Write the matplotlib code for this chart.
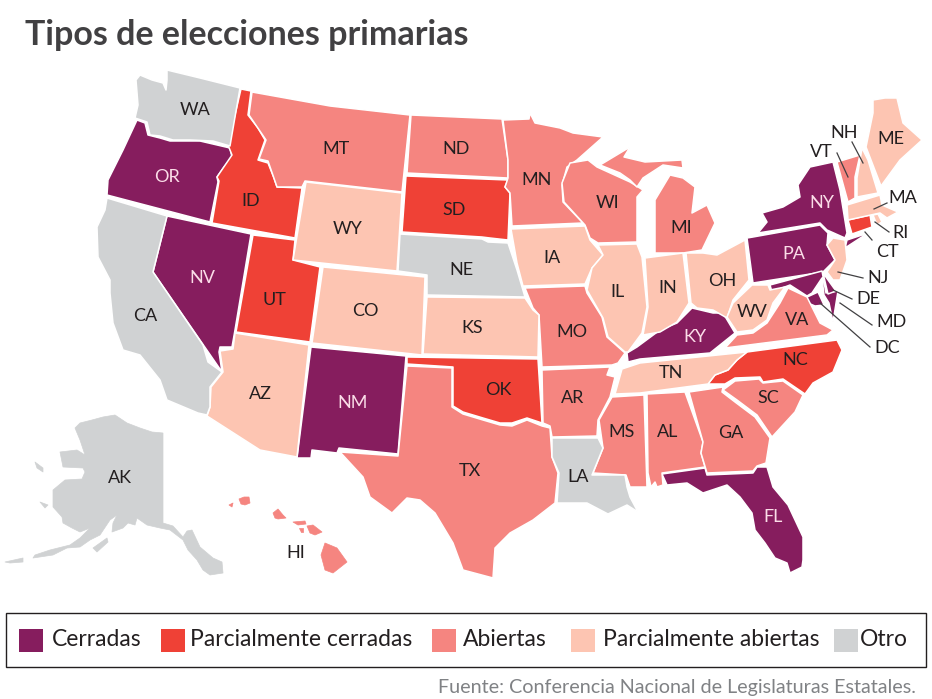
import matplotlib
matplotlib.use('Agg')
import matplotlib.pyplot as plt
from matplotlib.patches import Polygon, Rectangle

WA = [(167,70),(200,78),(240,88),(230,146),(213,141),(190,140),(173,140),(160,136),(150,135),(147,122),(135,118),(138,105),(136,80),(140,75),(152,80),(163,83),(166,90),(167,80)]
OR = [(137,120),(145,123),(148,135),(160,138),(170,141),(200,141),(230,148),(232,157),(224,167),(217,177),(218,182),(210,222),(107,195),(108,180),(123,150)]
CA = [(107,198),(167,216),(153,272),(203,345),(208,362),(222,372),(210,387),(210,407),(207,415),(198,413),(167,400),(160,380),(140,355),(123,350),(113,323),(110,293),(110,280),(98,257),(97,227),(105,210)]
NV = [(167,216),(251,234),(235,330),(232,347),(220,347),(219,352),(222,372),(153,272)]
ID = [(241,89),(251,91),(248,115),(258,128),(265,140),(258,160),(268,163),(274,178),(277,187),(302,188),(295,238),(212,223),(219,181),(217,177),(232,155),(228,145)]
MT = [(252,92),(330,106),(410,115),(402,192),(305,181),(302,187),(277,187),(268,161),(259,159),(266,140),(249,115)]
WY = [(306,182),(402,193),(397,271),(293,260)]
UT = [(253,235),(295,240),(293,260),(320,267),(310,342),(236,332)]
CO = [(323,267),(425,277),(422,355),(312,343)]
AZ = [(235,333),(309,345),(297,457),(260,450),(207,416),(210,407),(211,387),(223,372),(220,351),(233,349)]
NM = [(311,347),(406,356),(398,454),(339,448),(337,453),(312,450),(311,458),(297,458)]
ND = [(411,115),(502,119),(508,160),(508,178),(407,173)]
SD = [(406,176),(508,180),(505,187),(510,193),(508,240),(490,238),(482,237),(402,232)]
NE = [(400,234),(482,239),(488,242),(508,243),(517,270),(525,297),(427,295),(427,275),(398,271)]
KS = [(427,297),(525,298),(533,310),(539,315),(538,357),(423,354)]
OK = [(407,357),(538,359),(542,423),(527,418),(512,423),(500,423),(483,418),(463,412),(453,406),(453,367),(407,364)]
TX = [(407,366),(452,368),(452,407),(463,414),(483,420),(500,425),(512,426),(527,420),(542,426),(550,428),(552,457),(558,473),(555,503),(533,520),(510,533),(495,548),(493,578),(463,570),(453,543),(435,513),(420,500),(407,498),(392,513),(370,497),(363,477),(340,452),(398,456)]
MN = [(503,120),(529,119),(530,113),(535,123),(560,128),(573,133),(603,137),(577,160),(567,167),(562,185),(563,202),(583,223),(512,226),(510,193),(505,187),(508,178),(508,160)]
IA = [(511,229),(585,226),(590,240),(603,255),(592,268),(585,284),(523,286),(517,263)]
MO = [(525,288),(585,286),(587,293),(602,317),(607,337),(625,353),(618,363),(612,365),(542,367),(539,315),(533,308)]
AR = [(542,370),(610,367),(607,375),(615,377),(610,397),(598,420),(597,436),(552,437),(550,426),(543,423)]
LA = [(552,438),(598,438),(603,448),(592,475),(625,475),(627,487),(630,497),(638,512),(627,505),(608,514),(587,503),(557,503),(559,473),(552,457)]
WI = [(570,163),(588,160),(597,167),(630,182),(643,190),(637,197),(637,242),(598,243),(590,238),(585,225),(564,202),(562,183)]
UP = [(600,165),(630,147),(624,157),(645,162),(682,160),(683,168),(663,165),(643,178),(637,187),(630,180),(620,173)]
MI = [(655,253),(655,200),(670,175),(683,178),(695,187),(692,213),(707,205),(715,223),(702,250),(683,253)]
IL = [(598,245),(637,244),(642,257),(647,307),(642,333),(628,352),(625,352),(608,337),(603,318),(587,290),(592,268),(603,255)]
IN = [(645,258),(683,253),(689,303),(677,322),(660,332),(643,335),(648,307)]
OH = [(686,253),(703,253),(717,255),(745,240),(749,280),(733,300),(727,318),(713,310),(697,308),(691,303)]
KY = [(627,353),(637,347),(660,330),(677,323),(692,308),(713,313),(723,313),(735,333),(710,353),(640,359),(628,362)]
TN = [(622,369),(640,363),(747,352),(737,360),(728,370),(715,375),(708,384),(640,393),(615,394)]
MS = [(612,397),(644,395),(647,487),(630,487),(626,475),(593,473),(603,448),(599,420)]
AL = [(647,394),(685,392),(703,442),(701,453),(705,467),(662,473),(663,485),(657,487),(655,482),(651,487),(648,473)]
GA = [(689,392),(723,387),(722,392),(735,402),(755,417),(770,438),(766,463),(757,466),(753,471),(707,473),(701,453),(703,442)]
SC = [(723,390),(735,381),(759,379),(763,383),(783,381),(803,395),(795,412),(772,437),(757,415),(737,400)]
NC = [(708,384),(715,375),(728,370),(737,360),(747,352),(837,340),(842,350),(833,372),(813,383),(805,394),(783,379),(763,382),(760,377),(735,378),(725,384)]
FL = [(662,474),(705,468),(707,475),(753,473),(757,467),(767,467),(773,487),(788,505),(803,537),(803,560),(802,567),(790,573),(787,563),(775,558),(765,543),(755,530),(752,513),(740,497),(727,485),(712,490),(703,493),(687,483),(667,485)]
VA = [(725,348),(737,335),(753,333),(767,323),(780,303),(788,288),(807,297),(812,307),(820,323),(833,330),(827,335)]
WV = [(733,303),(752,285),(768,285),(770,290),(785,287),(773,303),(767,320),(753,330),(737,332),(727,317)]
PA = [(747,238),(753,237),(820,225),(828,233),(827,245),(835,260),(823,272),(753,283)]
NY = [(758,233),(767,222),(762,213),(783,207),(800,197),(798,185),(810,167),(833,162),(840,190),(847,233),(845,238),(827,230),(820,223)]
LI = [(845,248),(847,240),(868,233)]
NJ = [(833,238),(845,240),(847,260),(840,280),(833,280),(827,272),(835,260),(827,245)]
MD = [(770,285),(822,271),(826,293),(838,291),(833,322),(829,303),(824,295),(822,278),(816,287),(812,293),(807,296),(790,285),(782,288),(772,292)]
DE = [(823,273),(836,291),(828,294)]
DC = [(805,298),(818,292),(824,305),(815,306),(808,303)]
CT = [(848,220),(870,215),(872,227),(852,234)]
RI = [(873,215),(878,214),(882,222),(877,225)]
MA = [(847,205),(880,195),(882,205),(898,212),(887,218),(880,213),(848,220)]
VT = [(837,162),(860,155),(855,177),(855,198),(848,202)]
NH = [(862,148),(868,160),(878,193),(857,197),(857,178)]
ME = [(873,100),(885,98),(897,98),(903,123),(922,140),(900,160),(881,186),(866,147),(873,113)]
AK = [(75,428),(80,423),(92,420),(103,417),(115,415),(127,423),(140,428),(152,432),(163,433),(163,523),(173,526),(183,537),(187,531),(192,530),(200,547),(213,558),(222,562),(223,573),(210,575),(203,570),(197,560),(188,550),(183,540),(170,530),(160,528),(147,525),(137,518),(135,525),(128,523),(123,528),(112,532),(113,523),(117,515),(110,520),(100,535),(90,540),(80,547),(67,548),(53,555),(33,558),(35,555),(50,550),(70,545),(80,538),(90,528),(80,532),(72,528),(63,523),(62,517),(53,507),(53,490),(65,480),(82,479),(85,472),(83,468),(63,467),(60,452),(77,450),(85,455),(80,440)]
AK_KODIAK = [(93,548),(107,538),(108,542),(97,552)]
AK_ALEUT = [(5,562),(23,558),(23,562),(10,563)]
AK_NUNIVAK = [(40,502),(48,505),(45,508)]
AK_LAWRENCE = [(35,462),(43,468),(43,472),(37,468)]
HI_KAUAI = [(239,499),(244,497),(249,497),(250,503),(245,505),(241,504)]
HI_NIIHAU = [(229,505),(233,503),(232,507)]
HI_OAHU = [(273,513),(278,509),(283,515),(286,518),(278,519),(275,518)]
HI_MOLOKAI = [(293,522),(305,521),(306,524),(298,525)]
HI_LANAI = [(299,528),(303,528),(303,532),(301,532)]
HI_MAUI = [(307,526),(313,525),(322,532),(315,535),(310,533)]
HI_BIG = [(325,543),(337,548),(347,562),(333,573),(325,570),(321,555)]

SHAPES = {
    'WA': [WA], 'OR': [OR], 'CA': [CA], 'NV': [NV], 'ID': [ID], 'MT': [MT], 'WY': [WY],
    'UT': [UT], 'CO': [CO], 'AZ': [AZ], 'NM': [NM], 'ND': [ND], 'SD': [SD], 'NE': [NE],
    'KS': [KS], 'OK': [OK], 'TX': [TX], 'MN': [MN], 'IA': [IA], 'MO': [MO], 'AR': [AR],
    'LA': [LA], 'WI': [WI], 'MI': [UP, MI], 'IL': [IL], 'IN': [IN], 'OH': [OH], 'KY': [KY],
    'TN': [TN], 'MS': [MS], 'AL': [AL], 'GA': [GA], 'SC': [SC], 'NC': [NC], 'FL': [FL],
    'VA': [VA], 'WV': [WV], 'PA': [PA], 'NY': [NY, LI], 'NJ': [NJ], 'DE': [DE], 'MD': [MD],
    'DC': [DC], 'CT': [CT], 'RI': [RI], 'MA': [MA], 'VT': [VT], 'NH': [NH], 'ME': [ME],
    'AK': [AK, AK_KODIAK, AK_ALEUT, AK_NUNIVAK, AK_LAWRENCE],
    'HI': [HI_KAUAI, HI_NIIHAU, HI_OAHU, HI_MOLOKAI, HI_LANAI, HI_MAUI, HI_BIG],
}

categories = ['Cerradas', 'Parcialmente cerradas', 'Abiertas', 'Parcialmente abiertas', 'Otro']
colors = ['#861d5e', '#ef4136', '#f58580', '#fdc5b2', '#d0d2d3']
cerradas = ['OR', 'NV', 'NM', 'KY', 'NY', 'PA', 'MD', 'DE', 'DC', 'FL']
parc_cerradas = ['ID', 'UT', 'SD', 'OK', 'NC', 'CT']
abiertas = ['MT', 'ND', 'MN', 'WI', 'MI', 'MO', 'AR', 'TX', 'MS', 'AL', 'GA', 'SC', 'VA', 'VT', 'HI']
parc_abiertas = ['WY', 'CO', 'KS', 'IA', 'IL', 'IN', 'OH', 'WV', 'TN', 'AZ', 'NJ', 'NH', 'ME', 'MA', 'RI']
otro = ['WA', 'CA', 'NE', 'LA', 'AK']
groups = [cerradas, parc_cerradas, abiertas, parc_abiertas, otro]

label_pos = {
    'WA': (195,110), 'OR': (167,177), 'CA': (145,316), 'NV': (202,278), 'ID': (251,201),
    'MT': (336,149), 'WY': (348,229), 'UT': (274,300), 'CO': (365,311), 'AZ': (260,394),
    'NM': (353,403), 'ND': (456,149), 'SD': (454,210), 'NE': (461,270), 'KS': (472,328),
    'OK': (498,390), 'TX': (470,471), 'MN': (537,180), 'IA': (552,258), 'MO': (572,332),
    'AR': (573,398), 'LA': (578,477), 'WI': (608,203), 'IL': (618,292), 'MI': (681,228),
    'IN': (668,288), 'OH': (722,281), 'KY': (695,337), 'TN': (671,373), 'MS': (622,432),
    'AL': (668,432), 'GA': (731,433), 'SC': (768,398), 'NC': (795,360), 'VA': (797,320),
    'WV': (752,312), 'PA': (794,254), 'NY': (822,203), 'ME': (891,139), 'NH': (844,133),
    'VT': (821,152), 'MA': (903,198), 'RI': (900,233), 'CT': (887,252), 'NJ': (878,278),
    'DE': (868,299), 'MD': (892,322), 'DC': (887,348), 'FL': (773,517), 'AK': (120,478),
    'HI': (296,553),
}
leaders = [
    ((852,142),(863,163)), ((837,153),(848,177)), ((887,203),(874,209)), ((889,232),(875,222)),
    ((872,240),(865,232)), ((863,278),(838,272)), ((852,299),(833,290)), ((872,325),(840,303)),
    ((870,347),(820,303)),
]
legend_swatch_x = [19, 161, 432, 571, 834]
legend_text_x = [52, 190, 463, 603, 860]

plt.rcParams['font.family'] = ['Lato', 'DejaVu Sans']
fig = plt.figure(figsize=(9.32, 6.99), dpi=100)
ax = fig.add_axes([0, 0, 1, 1])
ax.set_xlim(0, 932)
ax.set_ylim(699, 0)
ax.axis('off')

for group, color in zip(groups, colors):
    for state in group:
        # the two inset states have no white border in the picture
        inset = state in ('AK', 'HI')
        for outline in SHAPES[state]:
            ax.add_patch(Polygon(outline, closed=True, facecolor=color,
                                 edgecolor=color if inset else 'white',
                                 linewidth=0.5 if inset else 1.1, joinstyle='round'))

for start, end in leaders:
    ax.plot([start[0], end[0]], [start[1], end[1]], color='#414042', linewidth=0.9)

for state, (x, y) in label_pos.items():
    c = '#fbdde8' if state in ('OR', 'NV', 'NM', 'KY', 'NY', 'PA', 'FL') else '#231f20'
    ax.text(x, y, state, color=c, fontsize=13, ha='center', va='center')

ax.text(25, 35, 'Tipos de elecciones primarias', fontsize=24.5, fontweight='bold',
        color='#414042', ha='left', va='center')

ax.add_patch(Rectangle((6, 613), 920, 54, facecolor='white', edgecolor='#231f20', linewidth=1))
for name, color, sx, tx in zip(categories, colors, legend_swatch_x, legend_text_x):
    ax.add_patch(Rectangle((sx, 629), 24, 23, facecolor=color, edgecolor='none'))
    ax.text(tx, 640, name, fontsize=16.5, color='#231f20', ha='left', va='center')

ax.text(916, 687, 'Fuente: Conferencia Nacional de Legislaturas Estatales.', fontsize=14.2,
        color='#808285', ha='right', va='center')

fig.savefig('out.png', dpi=100)
